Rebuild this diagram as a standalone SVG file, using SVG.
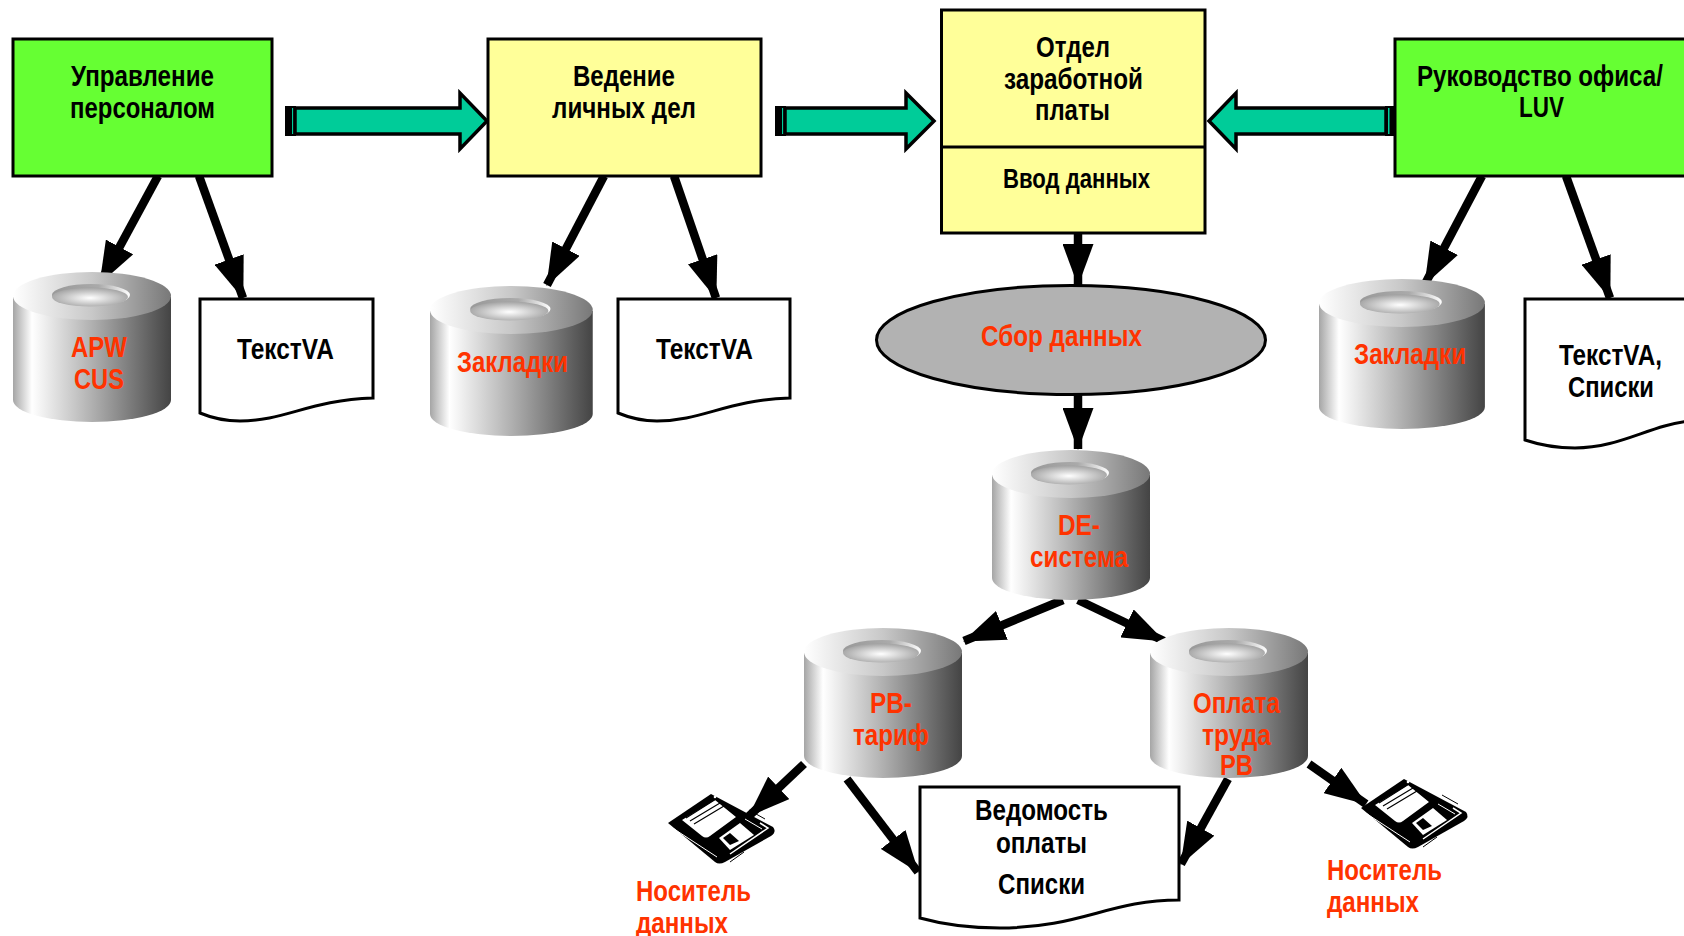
<svg xmlns="http://www.w3.org/2000/svg" width="1684" height="936" viewBox="0 0 1684 936">
<style>
text{font-family:"Liberation Sans",Arial,sans-serif;font-weight:700;font-size:29px;fill:#000}
.r{fill:#ff3300}
.box{stroke:#000;stroke-width:3}
.g{fill:#66ff33}.y{fill:#ffff99}
.doc{fill:#fff;stroke:#000;stroke-width:3}
.t{fill:#00cc99;stroke:#000;stroke-width:3.5}
.c line{stroke:#000;stroke-width:8.5;marker-end:url(#h)}
</style>
<defs>
<marker id="h" markerUnits="userSpaceOnUse" markerWidth="42" markerHeight="31" refX="41" refY="15.5" orient="auto"><path d="M0,0L42,15.5L0,31Z" fill="#000"/></marker>
<linearGradient id="s" x1="0" x2="1" y1="0" y2="0"><stop offset="0" stop-color="#a5a5a5"/><stop offset=".12" stop-color="#fff"/><stop offset=".5" stop-color="#b0b0b0"/><stop offset="1" stop-color="#444"/></linearGradient>
<linearGradient id="tp" x1="0" x2="1" y1="0" y2="0"><stop offset="0" stop-color="#fff"/><stop offset=".5" stop-color="#c8c8c8"/><stop offset="1" stop-color="#787878"/></linearGradient>
<linearGradient id="rm" x1="0" x2="1" y1="0" y2="0"><stop offset="0" stop-color="#999"/><stop offset=".6" stop-color="#aaa"/><stop offset="1" stop-color="#fff"/></linearGradient>
<radialGradient id="ho" cx=".5" cy=".55" r=".6"><stop offset="0" stop-color="#fff"/><stop offset="1" stop-color="#999"/></radialGradient>
<g id="cyl">
<path d="M0,25V128A79,22 0 0 0 158,128V25Z" fill="url(#s)"/>
<ellipse cx="79" cy="24" rx="79" ry="24" fill="url(#tp)"/>
<ellipse cx="78" cy="23" rx="39" ry="11" fill="url(#rm)"/>
<ellipse cx="77" cy="25" rx="38" ry="9.5" fill="url(#ho)"/>
</g>
<g id="fl">
<path d="M28,63L71,34L133,67Q137,72 131,76L85,102Q79,105 75,102Z" fill="#000"/>
<path d="M42,60L75,40L96,57L70,76Q66,79 62,76Z" fill="#fff"/>
<path d="M46,58L76,39M50,61L80,43M54,64L84,46" stroke="#000" stroke-width="1.2" fill="none"/>
<path d="M79,78L100,63L114,75L90,90Z" fill="#fff"/>
<path d="M83,78L90,73L99,81L90,85Z" fill="#000"/>
<path d="M120,63L128,68L90,94" stroke="#fff" stroke-width="1.5" fill="none"/>
<path d="M105,59L122,69" stroke="#fff" stroke-width="1" fill="none"/>
<path d="M28,65L77,97" stroke="#fff" stroke-width="1" fill="none"/>
<path d="M109,50L125,59M90,102L104,92" stroke="#000" stroke-width="1" fill="none"/>
<circle cx="75" cy="37" r="1.3" fill="#fff"/>
</g>
</defs>

<g id="connectors" class="c">
<line x1="158" y1="176" x2="100" y2="283"/>
<line x1="199" y1="176" x2="243" y2="298"/>
<line x1="604" y1="176" x2="547" y2="285"/>
<line x1="674" y1="176" x2="716" y2="298"/>
<line x1="1078" y1="233" x2="1078" y2="285"/>
<line x1="1078" y1="395" x2="1078" y2="449"/>
<line x1="1482" y1="176" x2="1425" y2="284"/>
<line x1="1566" y1="176" x2="1610" y2="298"/>
<line x1="1063" y1="600" x2="964" y2="641"/>
<line x1="1078" y1="600" x2="1164" y2="641"/>
<line x1="804" y1="764" x2="749" y2="816"/>
<line x1="847" y1="779" x2="918" y2="872"/>
<line x1="1228" y1="779" x2="1181" y2="864"/>
<line x1="1309" y1="764" x2="1366" y2="804"/>
<path d="M285,106H296V136H285Z" fill="#000"/><path d="M292,108H293.5V134H292Z" fill="#00cc99"/>
<path class="t" d="M295,108H460V93L487,121L460,149V134H295Z"/>
<path d="M775,106H786V136H775Z" fill="#000"/><path d="M782,108H783.500V134H782Z" fill="#00cc99"/>
<path class="t" d="M785,108H906V93L934,121L906,149V134H785Z"/>
<path d="M1385,106H1396V136H1385Z" fill="#000"/><path d="M1388,108H1389.500V134H1388Z" fill="#00cc99"/>
<path class="t" d="M1386,108H1236V93L1209,121L1236,149V134H1386Z"/>
</g>

<g id="n1"><rect class="box g" x="13" y="39" width="259" height="137"/><text x="71" y="86" textLength="143" lengthAdjust="spacingAndGlyphs">Управление</text><text x="70" y="118" textLength="145" lengthAdjust="spacingAndGlyphs">персоналом</text></g>
<g id="n2"><rect class="box y" x="488" y="39" width="273" height="137"/><text x="573" y="86" textLength="102" lengthAdjust="spacingAndGlyphs">Ведение</text><text x="552" y="118" textLength="144" lengthAdjust="spacingAndGlyphs">личных дел</text></g>
<g id="n3"><rect class="box y" x="941.500" y="10" width="263.500" height="223"/><path d="M941,147H1205" stroke="#000" stroke-width="3"/><text x="1036" y="57" textLength="74" lengthAdjust="spacingAndGlyphs">Отдел</text><text x="1004" y="89" textLength="139" lengthAdjust="spacingAndGlyphs">заработной</text><text x="1035" y="120" textLength="75" lengthAdjust="spacingAndGlyphs">платы</text><text x="1003" y="188" style="font-size:27px" textLength="147" lengthAdjust="spacingAndGlyphs">Ввод данных</text></g>
<g id="n4"><rect class="box g" x="1395" y="39" width="295" height="137"/><text transform="translate(1417,86) scale(.82,1)" x="0" y="0" textLength="300" lengthAdjust="spacingAndGlyphs">Руководство офиса/</text><text x="1519" y="117" textLength="45" lengthAdjust="spacingAndGlyphs">LUV</text></g>

<g id="cyl1"><use href="#cyl" transform="translate(13,272)"/><text class="r" x="71" y="357" textLength="56" lengthAdjust="spacingAndGlyphs">APW</text><text class="r" x="74" y="389" textLength="50" lengthAdjust="spacingAndGlyphs">CUS</text></g>
<g id="doc1"><path class="doc" d="M200,299H373V398C310,400 285,421 240,421C225,421 212,418 200,413Z"/><text x="237" y="359" textLength="97" lengthAdjust="spacingAndGlyphs">ТекстVA</text></g>
<g id="cyl2"><use href="#cyl" transform="translate(430,286) scale(1.03,1)"/><text class="r" x="457" y="372" textLength="111" lengthAdjust="spacingAndGlyphs">Закладки</text></g>
<g id="doc2"><path class="doc" d="M618,299H790V398C727,400 702,421 657,421C642,421 630,418 618,413Z"/><text x="656" y="359" textLength="97" lengthAdjust="spacingAndGlyphs">ТекстVA</text></g>
<g id="cyl3"><use href="#cyl" transform="translate(1319,279) scale(1.05,1)"/><text class="r" x="1354" y="364" textLength="112" lengthAdjust="spacingAndGlyphs">Закладки</text></g>
<g id="doc3"><path class="doc" d="M1525,299H1690V421C1650,425 1620,448 1575,448C1555,448 1540,445 1525,440Z"/><text x="1559" y="365" textLength="103" lengthAdjust="spacingAndGlyphs">ТекстVA,</text><text x="1568" y="397" textLength="86" lengthAdjust="spacingAndGlyphs">Списки</text></g>
<g id="ell"><ellipse cx="1071" cy="340" rx="194.500" ry="54.500" fill="#b2b2b2" stroke="#000" stroke-width="3"/><text class="r" x="981" y="346" textLength="161" lengthAdjust="spacingAndGlyphs">Сбор данных</text></g>
<g id="cyl4"><use href="#cyl" transform="translate(992,450)"/><text class="r" x="1058" y="535" textLength="42" lengthAdjust="spacingAndGlyphs">DE-</text><text class="r" x="1030" y="567" textLength="98" lengthAdjust="spacingAndGlyphs">система</text></g>
<g id="cyl5"><use href="#cyl" transform="translate(804,628)"/><text class="r" x="870" y="713" textLength="42" lengthAdjust="spacingAndGlyphs">РВ-</text><text class="r" x="853" y="745" textLength="76" lengthAdjust="spacingAndGlyphs">тариф</text></g>
<g id="cyl6"><use href="#cyl" transform="translate(1150,628)"/><text class="r" x="1193" y="713" textLength="87" lengthAdjust="spacingAndGlyphs">Оплата</text><text class="r" x="1202" y="745" textLength="69" lengthAdjust="spacingAndGlyphs">труда</text><text class="r" x="1220" y="775" textLength="33" lengthAdjust="spacingAndGlyphs">РВ</text></g>
<g id="doc4"><path class="doc" d="M920,787H1179V900C1110,900 1080,928 1000,928C970,928 945,925 920,918Z"/><text x="975" y="820" textLength="133" lengthAdjust="spacingAndGlyphs">Ведомость</text><text x="996" y="853" textLength="91" lengthAdjust="spacingAndGlyphs">оплаты</text><text x="998" y="894" textLength="87" lengthAdjust="spacingAndGlyphs">Списки</text></g>
<g id="fl1"><use href="#fl" transform="translate(640,760)"/><text class="r" x="636" y="901" textLength="115" lengthAdjust="spacingAndGlyphs">Носитель</text><text class="r" x="636" y="933" textLength="92" lengthAdjust="spacingAndGlyphs">данных</text></g>
<g id="fl2"><use href="#fl" transform="translate(1333,745)"/><text class="r" x="1327" y="880" textLength="115" lengthAdjust="spacingAndGlyphs">Носитель</text><text class="r" x="1327" y="912" textLength="92" lengthAdjust="spacingAndGlyphs">данных</text></g>
</svg>
